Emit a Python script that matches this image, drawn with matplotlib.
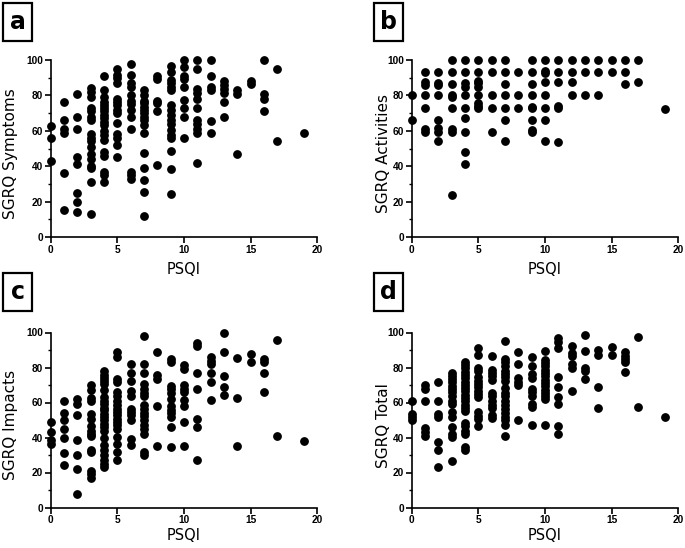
import matplotlib
matplotlib.use('Agg')
import matplotlib.pyplot as plt
from matplotlib.patches import Rectangle
from matplotlib.ticker import MultipleLocator

plt.rcParams['font.family'] = ['DejaVu Sans']

# PSQI score levels present in the data (no patient scored 18)
psqi_levels = [0, 1, 2, 3, 4, 5, 6, 7, 8, 9, 10, 11, 12, 13, 14, 15, 16, 17, 19]

# SGRQ scores for each PSQI level
symptoms = [
    [62.6, 56.2, 43],
    [76, 66, 61, 58.5, 36, 15.5],
    [81, 68, 61, 45, 41.5, 25, 20, 14],
    [84, 82, 79, 73, 71, 68, 66, 58, 56, 54, 51, 47, 44, 40, 39, 31, 13],
    [91, 83, 79, 76, 74.5, 73, 71, 69, 67, 65, 63, 60, 57.5, 55, 48, 46, 37, 35, 31],
    [95, 91.5, 89.6, 87, 78, 76, 74.5, 72, 70, 64.5, 58, 56, 52, 45],
    [98, 91.5, 87, 85, 80, 77, 75, 72, 68, 61, 37, 35, 33],
    [83, 80, 77, 75.5, 73.5, 71.5, 70, 68, 66, 63, 58.5, 47.5, 39, 32, 25.5, 11.7],
    [91, 89, 77, 75.5, 71, 40.5],
    [96.6, 93.4, 88.7, 86.8, 85, 83, 74.5, 71.7, 69, 66, 64, 60.4, 57.5, 55.7, 48.7, 38.7, 24.5],
    [100, 95.8, 91, 89, 85, 77.4, 72.6, 68, 56],
    [100, 95, 83.4, 81.5, 77.7, 72.6, 66, 64, 61, 59, 42],
    [100, 91, 85, 83, 65.7, 58.5],
    [88, 86, 83.4, 81.5, 76, 68],
    [83, 81, 47],
    [88, 86.5],
    [100, 81, 78, 71],
    [95, 54],
    [58.5],
]

activities = [
    [80, 66],
    [93, 87.5, 86, 80, 73, 61, 59.5],
    [93, 87, 86, 80, 66, 61.5, 59.5, 54],
    [100, 93, 86.4, 80.4, 79, 73, 61, 59.5, 24],
    [100, 93, 87, 85, 80, 73, 67, 59.5, 48, 41.5],
    [100, 93, 88, 87, 85, 80, 75.5, 74, 72.6],
    [100, 93, 80, 73, 59.5],
    [100, 93, 86.4, 80, 73, 66, 54],
    [93, 80, 73],
    [100, 93, 86.4, 80, 73.5, 72.6, 66, 60.5, 59.5],
    [100, 94, 92.5, 87.4, 80, 72.6, 66, 54.3],
    [100, 93, 87.4, 74, 72.6, 53.8],
    [100, 93, 87.4, 80],
    [100, 93, 80],
    [100, 93, 80],
    [100, 93],
    [100, 93, 86.2],
    [100, 87.4],
    [72.3],
]

impacts = [
    [49, 43, 38.5, 36.5],
    [60.6, 54, 50, 45, 40, 31.4, 24.5],
    [62, 59, 53, 38.4, 30, 22, 8],
    [70, 67, 62.5, 60.6, 53.6, 50.7, 46.5, 44, 42, 41, 33, 32, 21, 19, 17],
    [78, 76, 74, 72.5, 70.5, 67, 63, 61, 59, 57, 55.5, 53.5, 51.7, 50, 48, 46, 44, 40,
     35.5, 32.7, 30, 27, 25, 23],
    [89, 86, 73.5, 71.6, 66, 63.6, 61, 58.7, 56.4, 54.5, 52.6, 50.7, 48.8, 47, 45, 40.3,
     36.5, 32, 27],
    [82, 77, 72.5, 66.3, 64, 56.4, 54.5, 52.6, 50, 39.3, 36],
    [98, 82, 77, 70.6, 68, 65.5, 63.6, 58.7, 56.4, 54, 52.2, 50, 47.3, 45, 42, 32, 30],
    [89, 76, 73.5, 58, 35],
    [85, 83, 69.7, 68, 65.5, 62, 58, 56, 54, 51.7, 46, 34.6],
    [81.4, 79, 70, 68, 66, 61.7, 58, 49, 35],
    [94, 92.4, 77, 68, 50.7, 46, 27.4],
    [86, 84, 82, 77, 72, 61.7],
    [100, 89, 75, 68.7, 64.4],
    [85.4, 62.7, 35],
    [87.7, 83.3],
    [85, 83, 77, 66],
    [96, 40.7],
    [38],
]

total = [
    [60.6, 53.5, 51.7, 49.8],
    [70, 68, 61, 45.4, 43, 41],
    [71.6, 61, 53.6, 51.7, 37.4, 32.7, 23.2],
    [77, 75.4, 73.5, 71.6, 69.7, 67.8, 66, 64, 61, 59, 54.5, 51.7, 46, 42, 40.3, 26.4],
    [83.3, 81.4, 79.5, 77.6, 75.7, 73.8, 72, 70, 68.2, 66.3, 64.4, 62.5, 60.6, 58.7, 56.8,
     55, 48.4, 46.5, 44, 42.2, 34.6, 32.7],
    [91, 87, 80, 78, 74.4, 72.5, 70.6, 68.7, 66.8, 65, 63, 54.5, 52.2, 50.3, 46.5],
    [86.4, 78.8, 77, 75, 73, 65.5, 63.6, 61, 58.7, 56.8, 53, 51],
    [95.3, 84.8, 83, 80.7, 78.2, 76.3, 74.4, 72.5, 68.2, 65.5, 63.6, 61, 58.7, 56.4, 54,
     51.7, 49.8, 47.3, 40.7],
    [88.6, 82, 73.8, 72, 70, 49.8],
    [85.8, 81, 76.3, 73.8, 68, 66, 64, 59.2, 57.3, 47],
    [89.2, 84.4, 82.5, 80.7, 78.8, 76.9, 75, 73.1, 71.2, 69.3, 67.4, 65.5, 63.6, 62.1, 47.3],
    [97, 94.7, 91, 74.4, 68.7, 63, 59, 46.5, 41.8],
    [92.4, 88.2, 86.4, 82, 80, 66.8],
    [98.7, 89.6, 79.5, 78, 73.5],
    [90, 87, 69, 56.8],
    [91.5, 87],
    [88.6, 86.7, 84.8, 83.3, 77.3],
    [97.7, 57.3],
    [52],
]

panel_letters = ['a', 'b', 'c', 'd']
y_labels = ['SGRQ Symptoms', 'SGRQ Activities', 'SGRQ Impacts', 'SGRQ Total']
x_label = 'PSQI'


def flatten(levels, groups):
    xs, ys = [], []
    for lvl, vals in zip(levels, groups):
        xs.extend([lvl] * len(vals))
        ys.extend(vals)
    return xs, ys


W, H = 685, 548
fig = plt.figure(figsize=(W / 100, H / 100), dpi=100)

# axes rectangles in pixels: (left, top, width, height)
ax_px = [(50.7, 60, 266.5, 177), (411.7, 60, 266.5, 177),
         (50.7, 332.5, 266.5, 175), (411.7, 332.5, 266.5, 175)]
ylabel_x_px = [11, 384, 11, 384]
xlabel_gap_px = [33, 33, 28, 28]
box_px = [(3, 3, 29, 38), (374, 3, 29, 38), (3, 273, 29, 38), (374, 273, 29, 38)]

for i, data in enumerate([symptoms, activities, impacts, total]):
    l, t, w, h = ax_px[i]
    ax = fig.add_axes([l / W, 1 - (t + h) / H, w / W, h / H])
    xs, ys = flatten(psqi_levels, data)
    ax.plot(xs, ys, 'o', color='black', markersize=5.3, clip_on=False, zorder=3)

    ax.set_xlim(0, 20)
    ax.set_ylim(0, 100)
    ax.xaxis.set_major_locator(MultipleLocator(5))
    ax.yaxis.set_major_locator(MultipleLocator(20))
    ax.yaxis.set_minor_locator(MultipleLocator(10))
    for side in ['top', 'right']:
        ax.spines[side].set_visible(False)
    for side in ['left', 'bottom']:
        ax.spines[side].set_linewidth(1.2)
    ax.tick_params(axis='both', which='major', direction='out', length=4, width=1.2,
                   labelsize=7.3, pad=1.5)
    ax.tick_params(axis='y', which='minor', direction='out', length=2.5, width=1.0)
    for lab in ax.get_xticklabels() + ax.get_yticklabels():
        lab.set_family('Liberation Sans')
        lab.set_fontweight('bold')

    ax.set_xlabel(x_label, fontsize=10.5)
    ax.xaxis.set_label_coords(0.5, -xlabel_gap_px[i] / h)
    ax.xaxis.label.set_va('center')
    ax.set_ylabel(y_labels[i], fontsize=11)
    ax.yaxis.set_label_coords(-(l - ylabel_x_px[i]) / w, 0.47)
    ax.yaxis.label.set_va('center')

    bx, by, bw, bh = box_px[i]
    fig.patches.append(Rectangle((bx / W, 1 - (by + bh) / H), bw / W, bh / H,
                                 transform=fig.transFigure, fill=False,
                                 edgecolor='black', linewidth=1.6))
    fig.text((bx + bw / 2) / W, 1 - (by + bh / 2) / H, panel_letters[i],
             ha='center', va='center', fontsize=17, fontweight='bold')

fig.savefig('out.png', dpi=100)
